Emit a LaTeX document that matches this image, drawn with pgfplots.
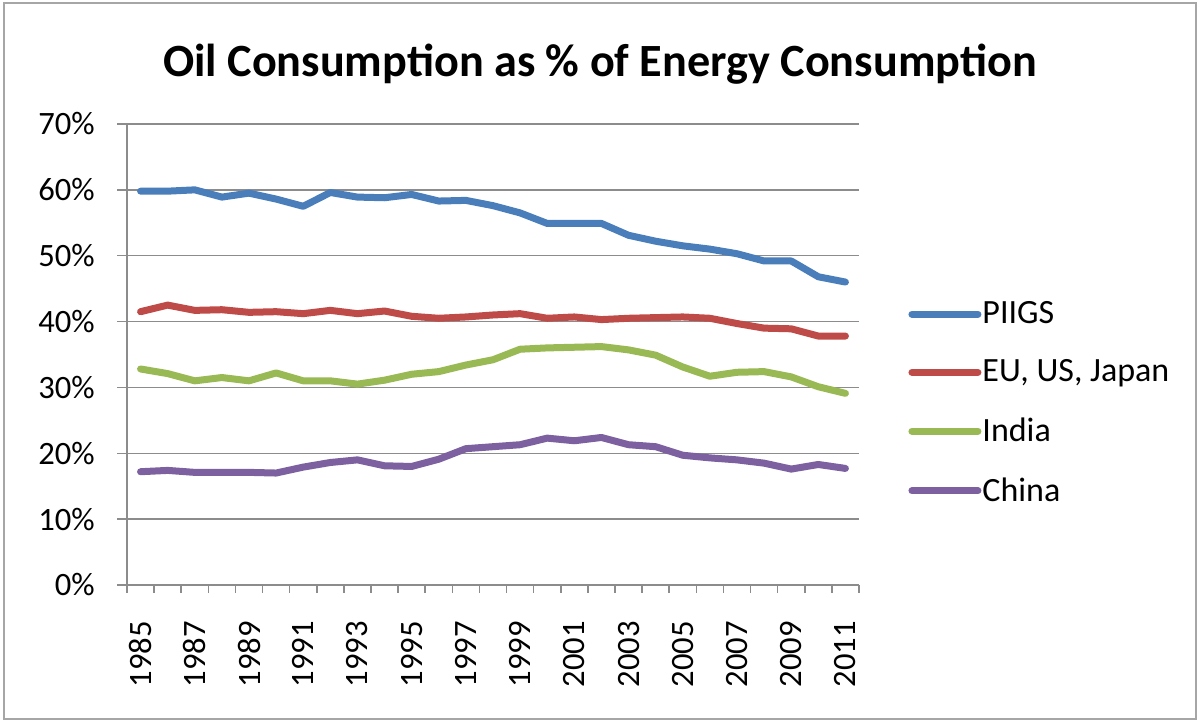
\documentclass[border=0pt]{standalone}
\usepackage{pgfplots}
\pgfplotsset{compat=1.18}
\usepackage{fontspec}
\setmainfont{Carlito}

\definecolor{piigs}{HTML}{4A7EBB}
\definecolor{eusj}{HTML}{BE4B48}
\definecolor{india}{HTML}{98B954}
\definecolor{china}{HTML}{7D60A0}
\definecolor{gridgray}{HTML}{8C8C8C}
\definecolor{framegray}{HTML}{A6A6A6}

\begin{document}
\begin{tikzpicture}
% chart area, 1200x722 px at 0.5pt per px
\useasboundingbox (0,0) rectangle (600pt,361pt);
\draw[framegray, line width=1pt] (1.75pt,1.5pt) rectangle (598pt,359.25pt);
\node[anchor=base, font=\fontsize{23.1}{27}\selectfont\bfseries] at (300pt,322.5pt)
  {Oil Consumption as \% of Energy Consumption};

\begin{axis}[
    at={(63.5pt,68.5pt)}, anchor=south west,
    scale only axis,
    width=366pt, height=230.5pt,
    xmin=1984.5, xmax=2011.5,
    ymin=0, ymax=70,
    axis lines*=left,
    axis line style={gridgray, line width=0.75pt},
    tick style={gridgray, line width=0.75pt},
    tick align=outside,
    major tick length=5pt,
    minor tick length=4pt,
    ytick={0,10,...,70},
    yticklabel={\pgfmathprintnumber{\tick}\%},
    ymajorgrids,
    major grid style={gridgray, line width=0.75pt},
    xtick={1985,1987,...,2011},
    major x tick style={draw=none},
    minor xtick={1984.5,1985.5,...,2011.5},
    x tick label style={rotate=90, anchor=east, inner sep=0pt},
    xticklabel shift=13pt,
    y tick label style={anchor=east, inner sep=0pt},
    yticklabel shift=11pt,
    /pgf/number format/assume math mode=true,
    /pgf/number format/1000 sep={},
    tick label style={font=\fontsize{16.3}{19}\selectfont},
    every axis plot/.append style={line width=3.5pt, line join=round, line cap=round},
    legend style={at={(1.067,0.395)}, anchor=west, draw=none, fill=none,
        inner sep=0pt, row sep=14.5pt,
        font=\fontsize{17}{20}\selectfont,
        nodes={inner ysep=1pt, inner xsep=0.5pt}},
    legend cell align=left,
    legend image code/.code={\draw[#1, line cap=round] (0pt,0pt) -- (33pt,0pt);},
]
\addplot[piigs] coordinates {
 (1985,59.8) (1986,59.8) (1987,60.0) (1988,58.9) (1989,59.5) (1990,58.6)
 (1991,57.5) (1992,59.6) (1993,58.9) (1994,58.8) (1995,59.3) (1996,58.3)
 (1997,58.4) (1998,57.6) (1999,56.5) (2000,54.9) (2001,54.9) (2002,54.9)
 (2003,53.1) (2004,52.2) (2005,51.5) (2006,51.0) (2007,50.3) (2008,49.2)
 (2009,49.2) (2010,46.8) (2011,46.0)
};
\addlegendentry{PIIGS}
\addplot[eusj] coordinates {
 (1985,41.5) (1986,42.5) (1987,41.7) (1988,41.8) (1989,41.4) (1990,41.5)
 (1991,41.2) (1992,41.7) (1993,41.2) (1994,41.6) (1995,40.8) (1996,40.5)
 (1997,40.7) (1998,41.0) (1999,41.2) (2000,40.5) (2001,40.7) (2002,40.3)
 (2003,40.5) (2004,40.6) (2005,40.7) (2006,40.5) (2007,39.7) (2008,39.0)
 (2009,38.9) (2010,37.8) (2011,37.8)
};
\addlegendentry{EU, US, Japan}
\addplot[india] coordinates {
 (1985,32.8) (1986,32.1) (1987,31.0) (1988,31.5) (1989,31.0) (1990,32.2)
 (1991,31.0) (1992,31.0) (1993,30.5) (1994,31.1) (1995,32.0) (1996,32.4)
 (1997,33.4) (1998,34.2) (1999,35.8) (2000,36.0) (2001,36.1) (2002,36.2)
 (2003,35.7) (2004,34.9) (2005,33.1) (2006,31.7) (2007,32.3) (2008,32.4)
 (2009,31.6) (2010,30.1) (2011,29.1)
};
\addlegendentry{India}
\addplot[china] coordinates {
 (1985,17.2) (1986,17.4) (1987,17.1) (1988,17.1) (1989,17.1) (1990,17.0)
 (1991,17.9) (1992,18.6) (1993,19.0) (1994,18.1) (1995,18.0) (1996,19.1)
 (1997,20.7) (1998,21.0) (1999,21.3) (2000,22.3) (2001,21.9) (2002,22.4)
 (2003,21.3) (2004,21.0) (2005,19.7) (2006,19.3) (2007,19.0) (2008,18.5)
 (2009,17.6) (2010,18.3) (2011,17.7)
};
\addlegendentry{China}
\end{axis}
\end{tikzpicture}
\end{document}
